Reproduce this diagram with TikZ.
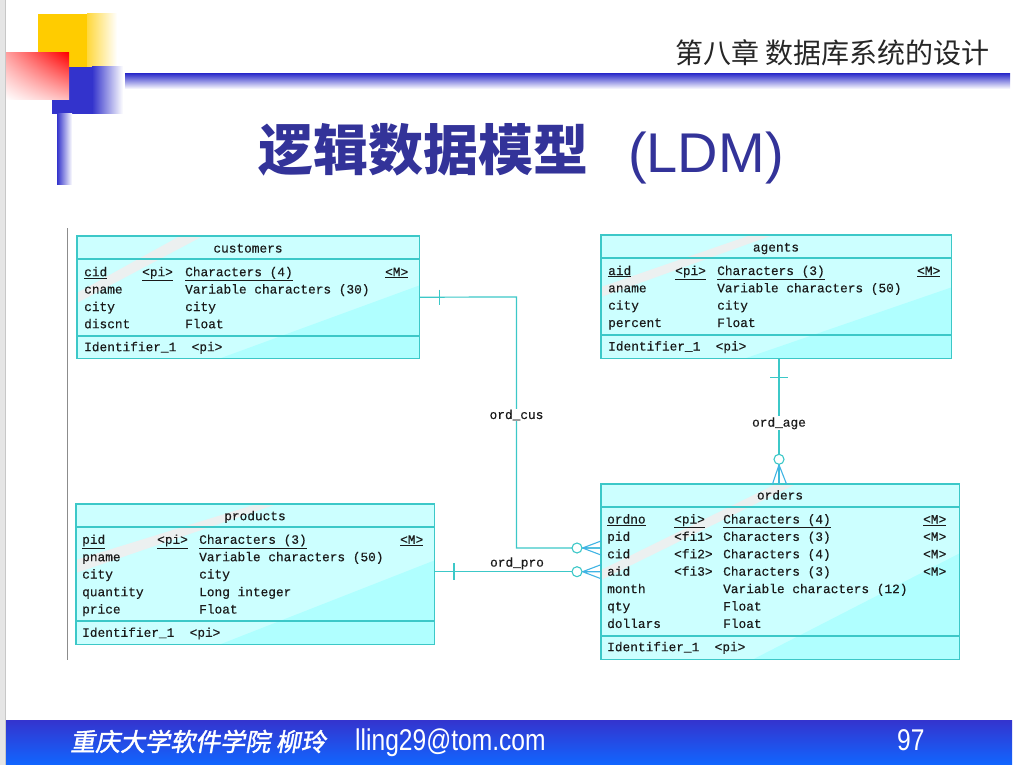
\documentclass[tikz,border=0pt]{standalone}
\usepackage{fontspec}
\usetikzlibrary{calc,shadings}
\newfontfamily\mono[FakeBold=0.35]{Liberation Mono}
\newfontfamily\cjk{Noto Sans CJK SC}
\newfontfamily\cjkit[FakeSlant=0.18,FakeBold=1.5]{Noto Sans CJK SC}
\newfontfamily\narrowsans[FakeStretch=0.82]{Liberation Sans}
\newfontfamily\lsans{Liberation Sans}
\definecolor{tealA}{HTML}{3CC8C8}
\definecolor{cyanA}{HTML}{CCFFFF}
\definecolor{cyanB}{HTML}{B0FFFF}
\definecolor{bandc}{HTML}{ECF0F0}
\definecolor{crow}{HTML}{40B4E4}
\definecolor{ttl}{HTML}{333399}
\definecolor{txt}{HTML}{1A1A1A}
\definecolor{blueA}{HTML}{3333CC}
\definecolor{barTop}{HTML}{3434CE}
\definecolor{barBot}{HTML}{1166FF}
\definecolor{yelA}{HTML}{FFCC00}
\definecolor{yelB}{HTML}{FFD83C}
\definecolor{redUL}{HTML}{FFA0A0}
\definecolor{redLR}{HTML}{FFBEBE}
\newlength\colA \newlength\colB \newlength\colC
\newcommand\rt[4]{\makebox[\colA][l]{#1}\makebox[\colB][l]{#2}\makebox[\colC][l]{#3}#4}
\newcommand\uln[1]{\underline{#1}}
\newcommand\erbg[7]{%
  \begin{scope}
    \clip (#1.south west) rectangle (#1.north east);
    \fill[cyanB] ($(#1.south west)+(#6,0)$) -- (#1.south east) -- ($(#1.south east)+(0,-#7)$) -- cycle;
    \fill[bandc] ($(#1.north west)+(#2,0)$) -- ($(#1.north west)+(#3,0)$) -- ($(#1.north west)+(0,#5)$) -- ($(#1.north west)+(0,#4)$) -- cycle;
  \end{scope}
  \draw[tealA, line width=1.4pt] (#1.south west) rectangle (#1.north east);
}
\newcommand\ersep[2]{\draw[tealA, line width=1.2pt] ($(#1.north west)+(0,#2)$) -- ($(#1.north east)+(0,#2)$);}
\tikzset{
  tbl/.style={anchor=north west, fill=cyanA, draw=none, inner sep=0},
  rowtxt/.style={anchor=base west, inner sep=0, font=\mono\fontsize{12.8}{15}\selectfont, text=txt},
  ttltxt/.style={anchor=base, inner sep=0, font=\mono\fontsize{12.8}{15}\selectfont, text=txt},
  rel/.style={draw=tealA, line width=1.2pt},
  crowl/.style={draw=crow, line width=1.1pt},
  circ/.style={circle, draw=tealA, fill=white, line width=1.1pt, minimum size=10pt, inner sep=0},
  lbl/.style={inner sep=1pt, font=\mono\fontsize{12.8}{15}\selectfont, text=txt}
}
\begin{document}
\begin{tikzpicture}[x=1pt, y=-1pt]
\useasboundingbox (0,0) rectangle (1017,765);
\fill[white] (0,0) rectangle (1017,765);
% left strip
\fill[black!10] (0,0) rectangle (5,765);
\fill[black!22] (5,0) rectangle (6,765);
% decoration
\fill[yelA] (38,14) rectangle (87,67);
\shade[left color=yelB, right color=white] (87,14) rectangle (117,67);
\fill[blueA] (52,67) rectangle (92,114);
\shade[left color=blueA, right color=white] (92,67) rectangle (123,114);
\shade[upper left=redUL, upper right=red, lower left=white, lower right=redLR] (6,53) rectangle (69,100);
\shade[top color=blueA, bottom color=white] (125,74) rectangle (1010,89);
\shade[left color=blueA, right color=white] (57,114) rectangle (72,184);
% header
\node[anchor=base east, inner sep=0, font=\cjk\fontsize{28}{30}\selectfont, text=black!85] (hdr) at (990,64) {第八章 数据库系统的设计};
% title
\node[anchor=base west, inner sep=0, font=\cjk\bfseries\fontsize{55}{60}\selectfont, text=ttl] (t1) at (258,171) {逻辑数据模型};
\node[anchor=base west, inner sep=0, font=\lsans\fontsize{56}{60}\selectfont, text=ttl] (t2) at (628,172) {(LDM)};
% thin left line
\draw[black!45, line width=0.8pt] (67,228) -- (67,660);

% ---------- customers
\node[tbl, minimum width=342, minimum height=122] (cus) at (77,236) {};
\erbg{cus}{103}{126}{57}{67}{143}{73}
\ersep{cus}{23}\ersep{cus}{100}
\node[ttltxt] (cust) at (248,252.5) {customers};
\setlength\colA{58pt}\setlength\colB{43pt}\setlength\colC{200pt}
\node[rowtxt] (cus1) at (84,276.2) {\rt{\uln{cid}}{\uln{<pi>}}{\uln{Characters (4)}}{\uln{<M>}}};
\node[rowtxt] (cus2) at (84,293.5) {\rt{cname}{}{Variable characters (30)}{}};
\node[rowtxt] (cus3) at (84,311) {\rt{city}{}{city}{}};
\node[rowtxt] (cus4) at (84,328.2) {\rt{discnt}{}{Float}{}};
\node[rowtxt] (cus5) at (84,351.2) {Identifier\_1 \ <pi>};

% ---------- agents
\node[tbl, minimum width=350, minimum height=123] (age) at (601,235) {};
\erbg{age}{150}{172}{52}{62}{144}{71}
\ersep{age}{23}\ersep{age}{100}
\node[ttltxt] (aget) at (776,251.5) {agents};
\setlength\colA{67pt}\setlength\colB{42pt}\setlength\colC{200pt}
\node[rowtxt] (age1) at (608,275) {\rt{\uln{aid}}{\uln{<pi>}}{\uln{Characters (3)}}{\uln{<M>}}};
\node[rowtxt] (age2) at (608,292.3) {\rt{aname}{}{Variable characters (50)}{}};
\node[rowtxt] (age3) at (608,309.6) {\rt{city}{}{city}{}};
\node[rowtxt] (age4) at (608,327) {\rt{percent}{}{Float}{}};
\node[rowtxt] (age5) at (608,350.5) {Identifier\_1 \ <pi>};

% ---------- products
\node[tbl, minimum width=358, minimum height=140] (pro) at (76,504) {};
\erbg{pro}{181}{201}{56}{69}{144}{84}
\ersep{pro}{23}\ersep{pro}{117}
\node[ttltxt] (prot) at (255,520.2) {products};
\setlength\colA{75pt}\setlength\colB{42pt}\setlength\colC{201pt}
\node[rowtxt] (pro1) at (82,543.8) {\rt{\uln{pid}}{\uln{<pi>}}{\uln{Characters (3)}}{\uln{<M>}}};
\node[rowtxt] (pro2) at (82,561.2) {\rt{pname}{}{Variable characters (50)}{}};
\node[rowtxt] (pro3) at (82,578.5) {\rt{city}{}{city}{}};
\node[rowtxt] (pro4) at (82,596.2) {\rt{quantity}{}{Long integer}{}};
\node[rowtxt] (pro5) at (82,613.5) {\rt{price}{}{Float}{}};
\node[rowtxt] (pro6) at (82,636.8) {Identifier\_1 \ <pi>};

% ---------- orders
\node[tbl, minimum width=358, minimum height=175] (ord) at (601,484) {};
\erbg{ord}{175}{195}{86}{96}{152}{106}
\ersep{ord}{23}\ersep{ord}{152}
\node[ttltxt] (ordt) at (780,499.5) {orders};
\setlength\colA{67pt}\setlength\colB{49pt}\setlength\colC{200pt}
\node[rowtxt] (ord1) at (607,523.5) {\rt{\uln{ordno}}{\uln{<pi>}}{\uln{Characters (4)}}{\uln{<M>}}};
\node[rowtxt] (ord2) at (607,540.9) {\rt{pid}{<fi1>}{Characters (3)}{<M>}};
\node[rowtxt] (ord3) at (607,558.3) {\rt{cid}{<fi2>}{Characters (4)}{<M>}};
\node[rowtxt] (ord4) at (607,575.7) {\rt{aid}{<fi3>}{Characters (3)}{<M>}};
\node[rowtxt] (ord5) at (607,593.1) {\rt{month}{}{Variable characters (12)}{}};
\node[rowtxt] (ord6) at (607,610.5) {\rt{qty}{}{Float}{}};
\node[rowtxt] (ord7) at (607,627.9) {\rt{dollars}{}{Float}{}};
\node[rowtxt] (ord8) at (607,651.2) {Identifier\_1 \ <pi>};

% ---------- connectors
\coordinate (j1) at ($(ord.north west)+(0,64)$);
\coordinate (j2) at ($(ord.north west)+(0,87.7)$);
\coordinate (j3) at ($(age.south west)+(178,0)$);
% ord_cus
\draw[rel] (cus.east) -- (516.5,297) |- (j1);
\draw[rel] ($(cus.east)+(20,-7.5)$) -- ++(0,15);
\node[circ] (c1) at ($(j1)+(-24,0)$) {};
\draw[crowl] (c1.east) -- ($(j1)+(0,-7)$) (c1.east) -- (j1) (c1.east) -- ($(j1)+(0,7)$);
\node[lbl, fill=white] (lcus) at (516.5,415) {ord\_cus};
% ord_pro
\draw[rel] (pro.east |- j2) -- (j2);
\draw[rel] ($(pro.east |- j2)+(19.5,-8.5)$) -- ++(0,17);
\node[circ] (c2) at ($(j2)+(-24,0)$) {};
\draw[crowl] (c2.east) -- ($(j2)+(0,-7)$) (c2.east) -- (j2) (c2.east) -- ($(j2)+(0,7)$);
\node[lbl] (lpro) at (517,563.3) {ord\_pro};
% ord_age
\draw[rel] (j3) -- (j3 |- ord.north);
\draw[rel] ($(j3)+(-8.7,19.3)$) -- ++(17.5,0);
\node[circ] (c3) at ($(j3 |- ord.north)+(0,-24.7)$) {};
\draw[crowl] (c3.south) -- ($(j3 |- ord.north)+(-6.5,0)$) (c3.south) -- (j3 |- ord.north) (c3.south) -- ($(j3 |- ord.north)+(7.5,0)$);
\node[lbl, fill=white] (lage) at (779,423.3) {ord\_age};

% ---------- footer
\shade[top color=barTop, bottom color=barBot] (6,720) rectangle (1012,765);
\node[anchor=base west, inner sep=0, font=\cjkit\fontsize{25}{27}\selectfont, text=white] (f1) at (70,751) {重庆大学软件学院 柳玲};
\node[anchor=base west, inner sep=0, font=\narrowsans\fontsize{30}{32}\selectfont, text=white] (f2) at (355,750) {lling29@tom.com};
\node[anchor=base west, inner sep=0, font=\narrowsans\fontsize{30}{32}\selectfont, text=white] (f3) at (897,750) {97};
\end{tikzpicture}
\end{document}
